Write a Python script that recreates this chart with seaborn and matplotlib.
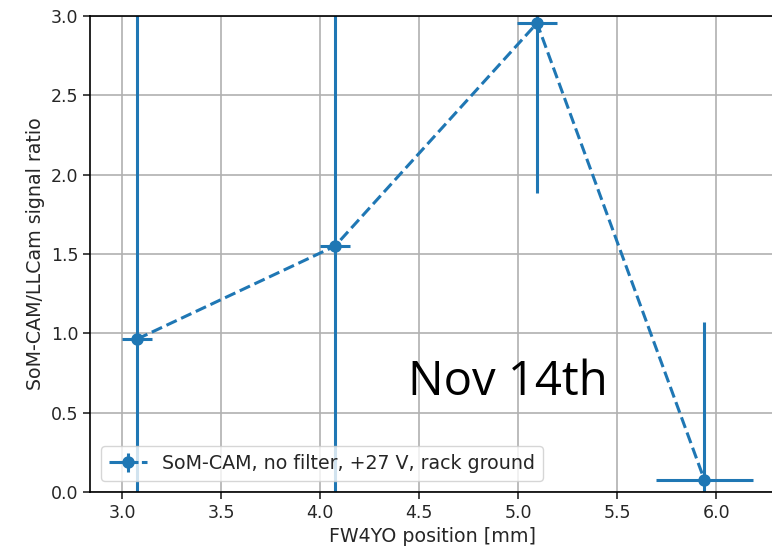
import matplotlib
matplotlib.use("Agg")
import matplotlib.pyplot as plt
import seaborn as sns
import pandas as pd

# FW4YO scan, SoM-CAM / LLCam signal ratio
position_mm = [3.076, 4.075, 5.095, 5.94]
ratio = [0.964, 1.55, 2.955, 0.076]
position_err = [0.076, 0.078, 0.10, 0.245]
ratio_err = [3.5, 2.0, 1.07, 0.995]
series_label = "SoM-CAM, no filter, +27 V, rack ground"

sns.set_style("ticks")
plt.rcParams["axes.grid"] = True
plt.rcParams["grid.color"] = "#b0b0b0"
plt.rcParams["grid.linewidth"] = 1.2

df = pd.DataFrame({"pos": position_mm, "ratio": ratio})

fig = plt.figure(figsize=(7.72, 5.55), dpi=100)
ax = fig.add_axes([0.1166, 0.1135, 0.8834 + 0.003, 0.8577])

color = "#1f77b4"
sns.lineplot(data=df, x="pos", y="ratio", ax=ax, color=color, linestyle="--",
             linewidth=2.2, marker="o", markersize=9, markeredgewidth=0,
             legend=False, sort=False)
line = ax.lines[-1]
eb = ax.errorbar(position_mm, ratio, xerr=position_err, yerr=ratio_err,
                 fmt="none", ecolor=color, elinewidth=2.2)

ax.set_xlim(2.838, 6.278 + 0.015)
ax.set_ylim(0, 3.0)
ax.set_xticks([3.0, 3.5, 4.0, 4.5, 5.0, 5.5, 6.0])
ax.set_yticks([0.0, 0.5, 1.0, 1.5, 2.0, 2.5, 3.0])
ax.set_xlabel("FW4YO position [mm]", fontsize=13.7)
ax.set_ylabel("SoM-CAM/LLCam signal ratio", fontsize=13.7)
ax.tick_params(labelsize=12.5, direction="out", length=5, width=1.2)
for s in ax.spines.values():
    s.set_color("black")
    s.set_linewidth(1.2)

ax.legend(handles=[(eb, line)], labels=[series_label], loc="lower left",
          fontsize=13.7, frameon=True, borderaxespad=0.6)

ax.text(0.61, 0.231, "Nov 14th", transform=ax.transAxes, fontsize=34,
        family="Open Sans", color="black", va="center", ha="center")

fig.savefig("out.png", dpi=100)
